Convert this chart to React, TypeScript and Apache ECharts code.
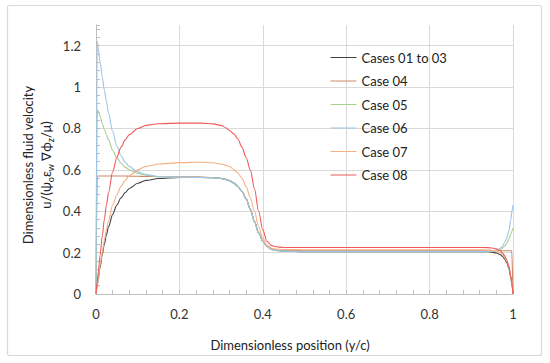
import React, { useEffect, useRef } from "react";
import * as echarts from "echarts";

const positions = [0, 0.003, 0.005, 0.01, 0.015, 0.02, 0.025, 0.03, 0.04, 0.05, 0.06, 0.07, 0.08, 0.1, 0.12, 0.15, 0.2, 0.25, 0.28, 0.3, 0.31, 0.32, 0.33, 0.34, 0.35, 0.36, 0.37, 0.38, 0.39, 0.4, 0.41, 0.42, 0.43, 0.45, 0.5, 0.6, 0.7, 0.8, 0.9, 0.94, 0.95, 0.96, 0.97, 0.975, 0.98, 0.985, 0.99, 0.995, 0.997, 1];

const cases0103 = [0, 0.04, 0.07, 0.13, 0.19, 0.24, 0.285, 0.325, 0.385, 0.43, 0.465, 0.49, 0.51, 0.535, 0.549, 0.558, 0.563, 0.564, 0.562, 0.558, 0.554, 0.548, 0.537, 0.52, 0.495, 0.46, 0.41, 0.35, 0.295, 0.255, 0.23, 0.217, 0.211, 0.207, 0.205, 0.205, 0.205, 0.205, 0.205, 0.204, 0.202, 0.198, 0.19, 0.181, 0.169, 0.151, 0.124, 0.078, 0.05, 0];
const case04 = [0, 0.57, 0.57, 0.57, 0.57, 0.57, 0.57, 0.57, 0.57, 0.57, 0.57, 0.57, 0.569, 0.569, 0.568, 0.567, 0.566, 0.565, 0.563, 0.559, 0.555, 0.549, 0.538, 0.521, 0.496, 0.461, 0.411, 0.351, 0.297, 0.257, 0.232, 0.219, 0.213, 0.21, 0.209, 0.209, 0.209, 0.209, 0.209, 0.209, 0.209, 0.209, 0.209, 0.209, 0.209, 0.209, 0.209, 0.209, 0.209, 0];
const case05 = [0, 0.89, 0.885, 0.86, 0.825, 0.795, 0.77, 0.745, 0.695, 0.658, 0.632, 0.613, 0.6, 0.583, 0.574, 0.567, 0.564, 0.563, 0.562, 0.558, 0.554, 0.548, 0.537, 0.52, 0.495, 0.46, 0.41, 0.35, 0.295, 0.255, 0.23, 0.217, 0.211, 0.207, 0.205, 0.205, 0.205, 0.205, 0.205, 0.205, 0.206, 0.209, 0.215, 0.222, 0.232, 0.245, 0.265, 0.29, 0.302, 0.318];
const case06 = [0, 1.22, 1.19, 1.12, 1.05, 0.985, 0.93, 0.875, 0.785, 0.715, 0.668, 0.637, 0.616, 0.59, 0.577, 0.568, 0.564, 0.563, 0.562, 0.558, 0.554, 0.548, 0.537, 0.52, 0.495, 0.46, 0.41, 0.35, 0.295, 0.255, 0.23, 0.217, 0.211, 0.207, 0.205, 0.205, 0.205, 0.205, 0.205, 0.206, 0.208, 0.212, 0.222, 0.232, 0.248, 0.27, 0.305, 0.36, 0.395, 0.43];
const case07 = [0, 0.042, 0.07, 0.14, 0.2, 0.26, 0.31, 0.355, 0.43, 0.48, 0.52, 0.55, 0.572, 0.6, 0.617, 0.628, 0.635, 0.637, 0.634, 0.628, 0.623, 0.616, 0.603, 0.585, 0.56, 0.52, 0.465, 0.4, 0.325, 0.27, 0.235, 0.222, 0.217, 0.215, 0.214, 0.214, 0.214, 0.214, 0.214, 0.213, 0.211, 0.207, 0.198, 0.189, 0.177, 0.158, 0.13, 0.082, 0.052, 0];
const case08 = [0, 0.06, 0.1, 0.19, 0.28, 0.36, 0.43, 0.49, 0.59, 0.66, 0.71, 0.745, 0.77, 0.8, 0.815, 0.823, 0.826, 0.826, 0.822, 0.815, 0.805, 0.79, 0.775, 0.75, 0.71, 0.66, 0.6, 0.51, 0.4, 0.31, 0.255, 0.235, 0.228, 0.225, 0.225, 0.225, 0.225, 0.225, 0.225, 0.224, 0.222, 0.218, 0.208, 0.198, 0.185, 0.165, 0.135, 0.085, 0.055, 0];

const seriesNames = ["Cases 01 to 03", "Case 04", "Case 05", "Case 06", "Case 07", "Case 08"];
const seriesValues = [cases0103, case04, case05, case06, case07, case08];
const seriesColors = ["#404040", "#cc8866", "#a9d18e", "#9dc3e6", "#f4b183", "#f05a5a"];

const xTitle = "Dimensionless position (y/c)";
const yTitle1 = "Dimensionless fluid velocity";

const FONT = "Lato";

export default function App() {
  const ref = useRef<HTMLDivElement>(null);
  useEffect(() => {
    if (!ref.current) return;
    const chart = echarts.init(ref.current, null, { renderer: "svg" });
    const option: any = {
      animation: false,
      backgroundColor: "#ffffff",
      textStyle: { fontFamily: FONT },
      grid: { left: 96, right: 37, top: 25, bottom: 69, containLabel: false },
      legend: {
        orient: "vertical",
        left: 325,
        top: 45,
        itemWidth: 26,
        itemHeight: 14,
        itemGap: 8.5,
        itemStyle: { opacity: 0 },
        lineStyle: { width: 1 },
        textStyle: { fontFamily: FONT, fontSize: 13, color: "#222", lineHeight: 15 },
        data: seriesNames,
      },
      xAxis: {
        type: "value",
        min: 0,
        max: 1,
        interval: 0.2,
        axisLine: { lineStyle: { color: "#bfbfbf", width: 1 } },
        axisTick: { show: true, inside: true, length: 4, lineStyle: { color: "#bfbfbf" } },
        minorTick: { show: true, splitNumber: 5, length: 4, lineStyle: { color: "#bfbfbf" } },
        axisLabel: { fontFamily: FONT, fontSize: 13, color: "#333", margin: 13 },
        splitLine: { show: true, lineStyle: { color: "#d9d9d9", width: 1 } },
      },
      yAxis: {
        type: "value",
        min: 0,
        max: 1.3,
        interval: 0.2,
        axisLine: { show: true, lineStyle: { color: "#bfbfbf", width: 1 } },
        axisTick: { show: true, inside: true, length: 4, lineStyle: { color: "#bfbfbf" } },
        minorTick: { show: true, splitNumber: 5, length: 4, lineStyle: { color: "#bfbfbf" } },
        axisLabel: { fontFamily: FONT, fontSize: 13, color: "#333", margin: 15, showMaxLabel: false },
        splitLine: { show: true, showMaxLine: false, lineStyle: { color: "#d9d9d9", width: 1 } },
      },
      graphic: [
        {
          type: "rect",
          shape: { x: 7.5, y: 5.5, width: 534, height: 350, r: 2 },
          style: { fill: "none", stroke: "#d9d9d9", lineWidth: 1.2 },
          silent: true,
        },
        {
          type: "text",
          x: 290,
          y: 345,
          style: {
            text: xTitle,
            fontFamily: FONT,
            fontSize: 13,
            fill: "#222",
            align: "center",
            verticalAlign: "middle",
          },
        },
        {
          type: "text",
          x: 37,
          y: 165,
          rotation: Math.PI / 2,
          style: {
            text: yTitle1 + "\n{m|u/(ψ}{s|o}{m|ε}{s|w}{m| ∇ϕ}{s|z}{m|/μ)}",
            fontFamily: FONT,
            fontSize: 13,
            lineHeight: 18,
            fill: "#222",
            align: "center",
            verticalAlign: "middle",
            rich: {
              m: { fontFamily: FONT, fontSize: 13, lineHeight: 18, fill: "#222" },
              s: { fontFamily: FONT, fontSize: 9, lineHeight: 10, verticalAlign: "bottom", fill: "#222" },
            },
          },
        },
      ],
      series: seriesNames.map((name, k) => ({
        name,
        type: "line",
        symbol: "none",
        smooth: 0.3,
        smoothMonotone: "x",
        lineStyle: { color: seriesColors[k], width: 1.1 },
        itemStyle: { color: seriesColors[k] },
        data: positions.map((x, i) => [x, seriesValues[k][i]]),
      })),
    };
    chart.setOption(option);
    return () => chart.dispose();
  }, []);
  return (
    <div
      ref={ref}
      style={{ position: "fixed", left: 0, top: 0, width: 550, height: 363 }}
    />
  );
}
